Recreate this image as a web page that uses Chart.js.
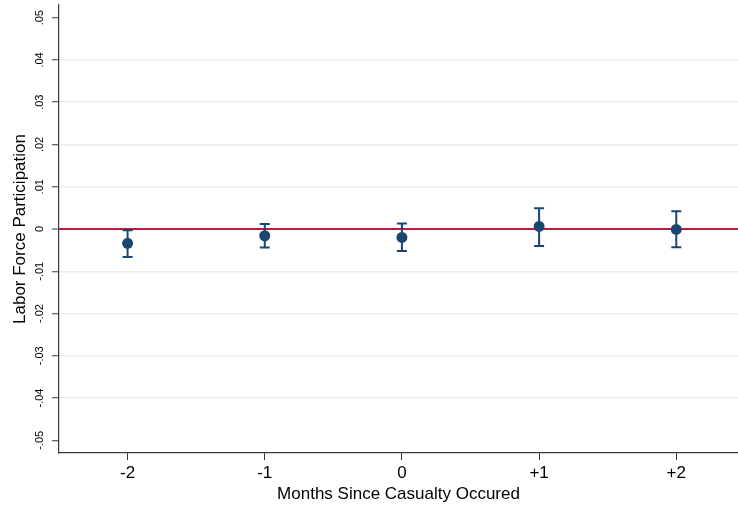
<!DOCTYPE html>
<html>
<head>
<meta charset="utf-8">
<script src="https://cdn.jsdelivr.net/npm/chart.js@4/dist/chart.umd.min.js"></script>
<style>
  html, body { margin: 0; padding: 0; background: #ffffff; overflow: hidden; }
  canvas { display: block; }
</style>
</head>
<body>
<canvas id="c" width="738" height="513"></canvas>
<script>
// ---- data ----
const xValues = [-2, -1, 0, 1, 2];
const xLabels = ['-2', '-1', '0', '+1', '+2'];
const estimates = [-0.0034, -0.0016, -0.0020, 0.0006, -0.0001];
const ciLow = [-0.0066, -0.0044, -0.0052, -0.0040, -0.0043];
const ciHigh = [-0.0003, 0.0012, 0.0013, 0.0049, 0.0042];
const yTicks = [-0.05, -0.04, -0.03, -0.02, -0.01, 0, 0.01, 0.02, 0.03, 0.04, 0.05];
const yTickLabels = ['-.05', '-.04', '-.03', '-.02', '-.01', '0', '.01', '.02', '.03', '.04', '.05'];

const NAVY = '#1a476f';
const RED = '#c4163c';
const GRID = '#e6edf1';
const AXIS = '#3a3a3a';
const FONT = "'Liberation Sans', Arial, Helvetica, sans-serif";

const errorBars = {
  id: 'errorBars',
  beforeDatasetsDraw(chart) {
    const { ctx, scales: { x, y } } = chart;
    ctx.save();
    ctx.strokeStyle = NAVY;
    ctx.lineWidth = 2;
    ctx.lineCap = 'butt';
    xValues.forEach((xv, i) => {
      const px = x.getPixelForValue(xv);
      const pLo = y.getPixelForValue(ciLow[i]);
      const pHi = y.getPixelForValue(ciHigh[i]);
      const half = 5;
      ctx.beginPath();
      ctx.moveTo(px, pLo); ctx.lineTo(px, pHi);
      ctx.moveTo(px - half, pLo); ctx.lineTo(px + half, pLo);
      ctx.moveTo(px - half, pHi); ctx.lineTo(px + half, pHi);
      ctx.stroke();
    });
    ctx.restore();
  }
};

const bgPlugin = {
  id: 'bg',
  beforeDraw(chart) {
    const ctx = chart.ctx;
    ctx.save();
    ctx.fillStyle = '#ffffff';
    ctx.fillRect(0, 0, chart.width, chart.height);
    ctx.restore();
  }
};

new Chart(document.getElementById('c'), {
  type: 'scatter',
  data: {
    datasets: [{
      data: xValues.map((xv, i) => ({ x: xv, y: estimates[i] })),
      backgroundColor: NAVY,
      borderColor: NAVY,
      borderWidth: 0,
      pointRadius: 5.5,
      pointHoverRadius: 5.5
    }]
  },
  options: {
    responsive: false,
    devicePixelRatio: 1,
    animation: false,
    layout: { autoPadding: false, padding: { top: 5, right: 0, left: 0, bottom: 0 } },
    plugins: { legend: { display: false }, tooltip: { enabled: false }, title: { display: false } },
    scales: {
      x: {
        type: 'linear',
        min: -2.5,
        max: 2.45,
        afterBuildTicks: s => { s.ticks = xValues.map(v => ({ value: v })); },
        afterFit: s => { s.height = 60; s.paddingLeft = 0; s.paddingRight = 0; },
        ticks: {
          autoSkip: false,
          maxRotation: 0,
          padding: 3,
          color: '#000',
          font: { family: FONT, size: 17 },
          callback: v => { const i = xValues.indexOf(v); return i >= 0 ? xLabels[i] : ''; }
        },
        grid: { drawOnChartArea: false, drawTicks: true, tickLength: 7, tickColor: AXIS, tickWidth: 1 },
        border: { display: true, color: AXIS, width: 1.2 },
        title: {
          display: true,
          text: 'Months Since Casualty Occured',
          color: '#000',
          font: { family: FONT, size: 17 },
          padding: { top: 0, bottom: 8 }
        }
      },
      y: {
        type: 'linear',
        min: -0.053,
        max: 0.053,
        afterBuildTicks: s => { s.ticks = yTicks.map(v => ({ value: v })); },
        afterFit: s => { s.width = 59; s.paddingTop = 0; s.paddingBottom = 0; },
        ticks: {
          autoSkip: false,
          minRotation: 90,
          maxRotation: 90,
          crossAlign: 'center',
          padding: 3,
          color: '#000',
          font: { family: FONT, size: 11 },
          callback: (v, idx) => yTickLabels[idx]
        },
        grid: {
          drawTicks: true,
          tickLength: 7,
          tickColor: AXIS,
          tickWidth: 1,
          color: c => {
            const v = c.tick ? c.tick.value : 1;
            if (Math.abs(v) < 1e-9) return RED;
            if (Math.abs(v) > 0.0499) return 'rgba(0,0,0,0)';
            return GRID;
          },
          lineWidth: c => {
            const v = c.tick ? c.tick.value : 1;
            return Math.abs(v) < 1e-9 ? 2 : 1.5;
          }
        },
        border: { display: true, color: AXIS, width: 1.2 },
        title: {
          display: true,
          text: 'Labor Force Participation',
          color: '#000',
          font: { family: FONT, size: 17 },
          padding: { top: 10, bottom: 0 }
        }
      }
    }
  },
  plugins: [bgPlugin, errorBars]
});
</script>
</body>
</html>
